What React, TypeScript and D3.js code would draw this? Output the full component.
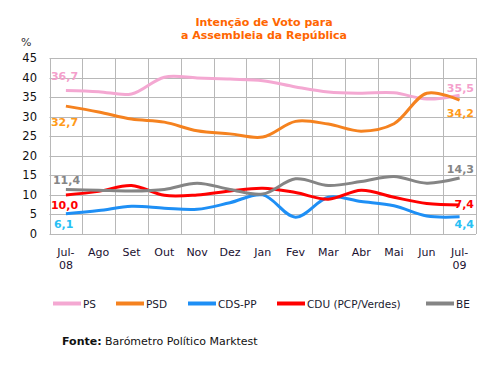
import React from 'react';
import * as d3 from 'd3';

// Months (Jul-08 .. Jul-09), two-line labels
const months = ['Jul-|08', 'Ago', 'Set', 'Out', 'Nov', 'Dez', 'Jan', 'Fev', 'Mar', 'Abr', 'Mai', 'Jun', 'Jul-|09'];
const yTicks = [0, 5, 10, 15, 20, 25, 30, 35, 40, 45];

const partyNames = ['PS', 'PSD', 'CDS-PP', 'CDU (PCP/Verdes)', 'BE'];
const lineColors = ['#f4a8d2', '#f5821f', '#1e8ff5', '#ff0000', '#858585'];
const labelColors = ['#f4a0cc', '#ff9a1a', '#28c0f4', '#ff0000', '#858585'];

const ps = [36.7, 36.4, 35.8, 40.1, 39.9, 39.6, 39.2, 37.6, 36.3, 36.0, 36.1, 34.5, 35.5];
const psd = [32.7, 31.2, 29.4, 28.6, 26.4, 25.6, 24.8, 28.8, 28.1, 26.3, 28.2, 36.0, 34.2];
const cds = [5.2, 6.0, 7.1, 6.6, 6.3, 8.0, 10.0, 4.3, 9.4, 8.3, 7.2, 4.6, 4.4];
const cdu = [10.0, 10.9, 12.4, 9.9, 10.0, 11.0, 11.7, 10.6, 8.9, 11.2, 9.4, 7.8, 7.4];
const be = [11.4, 11.2, 11.0, 11.4, 13.0, 11.4, 10.2, 14.1, 12.4, 13.4, 14.7, 13.0, 14.3];
const seriesValues = [ps, psd, cds, cdu, be];

// printed start / end labels
const startLabels = ['36,7', '32,7', '6,1', '10,0', '11,4'];
const endLabels = ['35,5', '34,2', '4,4', '7,4', '14,3'];

const W = 503;
const H = 366;
const FONT = 'DejaVu Sans, Verdana, sans-serif';

export default function App() {
  const left = 49.5;
  const right = 476;
  const top = 58;
  const bottom = 234;

  const x = d3.scaleBand<string>().domain(months).range([left, right]);
  const y = d3.scaleLinear().domain([0, 45]).range([bottom, top]);
  const cx = (i: number) => (x(months[i]) as number) + x.bandwidth() / 2;

  const line = d3
    .line<number>()
    .x((_, i) => cx(i))
    .y((d) => y(d))
    .curve(d3.curveCatmullRom.alpha(0.5));

  // label offsets (baseline relative to the line end)
  const startDy = [-10.5, 20, 14.3, 14, -5.4];
  const startDx = [-15, -15, -12, -15, -13];
  const endDy = [-3, 16.5, 11, 3, -5];

  const legendX = [53, 116, 188, 277, 426];

  return (
    <svg width={W} height={H} style={{ position: 'absolute', left: 0, top: 0, background: '#fff' }}>
      <text x={264} y={26} textAnchor="middle" fontFamily={FONT} fontWeight="bold" fontSize={11} fill="#ff6600">
        Intenção de Voto para
      </text>
      <text x={264} y={39} textAnchor="middle" fontFamily={FONT} fontWeight="bold" fontSize={11} fill="#ff6600">
        a Assembleia da República
      </text>

      {/* grid */}
      {yTicks.map((t) => (
        <line key={'h' + t} x1={left} x2={right} y1={Math.round(y(t)) + 0.5} y2={Math.round(y(t)) + 0.5} stroke="#b8b8b8" />
      ))}
      {months.map((m) => (
        <line key={'v' + m} x1={Math.round(x(m) as number) + 0.5} x2={Math.round(x(m) as number) + 0.5} y1={top} y2={bottom} stroke="#b8b8b8" />
      ))}
      <line x1={right + 0.5} x2={right + 0.5} y1={top} y2={bottom} stroke="#b8b8b8" />

      {/* y axis */}
      <text x={21} y={46} fontFamily={FONT} fontSize={11} fill="#333">%</text>
      {yTicks.map((t) => (
        <text key={'yt' + t} x={37} y={y(t) + 4} textAnchor="end" fontFamily={FONT} fontSize={11.5} fill="#111">
          {t}
        </text>
      ))}

      {/* x axis */}
      {months.map((m, i) => (
        <text key={'xt' + m} x={cx(i)} y={256} textAnchor="middle" fontFamily={FONT} fontSize={11} fill="#1a1030">
          {m.split('|').map((p, j) => (
            <tspan key={j} x={cx(i)} dy={j === 0 ? 0 : 12.5}>{p}</tspan>
          ))}
        </text>
      ))}

      {/* lines */}
      {seriesValues.map((vals, k) => (
        <path key={'s' + k} d={line(vals) || ''} fill="none" stroke={lineColors[k]} strokeWidth={3} />
      ))}

      {/* start / end labels */}
      {seriesValues.map((vals, k) => (
        <g key={'l' + k} fontFamily={FONT} fontWeight="bold" fontSize={11} fill={labelColors[k]}>
          <text x={cx(0) + startDx[k]} y={y(vals[0]) + startDy[k]}>{startLabels[k]}</text>
          <text x={474} y={y(vals[vals.length - 1]) + endDy[k]} textAnchor="end">{endLabels[k]}</text>
        </g>
      ))}

      {/* legend */}
      {partyNames.map((n, k) => (
        <g key={'lg' + n}>
          <line x1={legendX[k]} x2={legendX[k] + 28} y1={303.5} y2={303.5} stroke={lineColors[k]} strokeWidth={4} />
          <text x={legendX[k] + 30} y={308} fontFamily={FONT} fontSize={10.5} fill="#1a1a30">{n}</text>
        </g>
      ))}

      <text x={62} y={345} fontFamily={FONT} fontSize={11} fill="#111">
        <tspan fontWeight="bold">Fonte:</tspan> Barómetro Político Marktest
      </text>
    </svg>
  );
}
